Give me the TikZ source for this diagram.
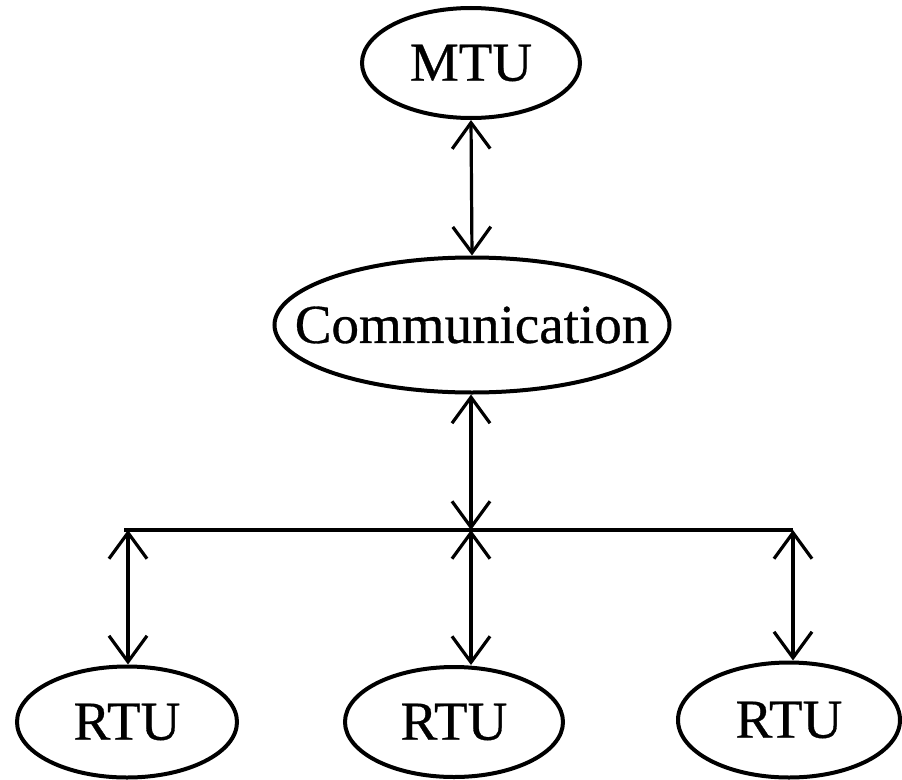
\documentclass[tikz,border=0pt]{standalone}
\usepackage{fontspec}
\setmainfont{Liberation Serif}
\newfontfamily\diagfont{Liberation Serif}[BoldFont={Liberation Serif},BoldFeatures={FakeBold=0.6}]
\usetikzlibrary{shapes.geometric,arrows.meta}
\begin{document}
\begin{tikzpicture}[x=1pt,y=1pt,
  unit/.style={draw, ellipse, line width=4pt, inner sep=0pt, font=\diagfont\bfseries\fontsize{55}{60}\selectfont},
  link/.style={line width=3.2pt, {Straight Barb[length=26pt,width=38pt]}-{Straight Barb[length=26pt,width=38pt]}},
  bus/.style={line width=4.5pt}]
\useasboundingbox (0,0) rectangle (902,-779);
\node[unit, minimum width=218pt, minimum height=110pt] (mtu) at (471,-63) {\makebox[0pt]{MTU}};
\node[unit, minimum width=395pt, minimum height=135pt] (comm) at (472,-325) {\makebox[0pt]{Communication}};
\node[unit, minimum width=220pt, minimum height=111pt] (rtu1) at (127,-722) {\makebox[0pt]{RTU}};
\node[unit, minimum width=218pt, minimum height=110pt] (rtu2) at (454,-722) {\makebox[0pt]{RTU}};
\node[unit, minimum width=222pt, minimum height=115pt] (rtu3) at (789,-720) {\makebox[0pt]{RTU}};
\coordinate (j1) at (128,-530);
\coordinate (j2) at (471,-530);
\coordinate (j3) at (793,-530);
\coordinate (bl) at (124,-530);
\draw[bus] (bl) -- (j3);
\draw[link] (mtu.south) -- (comm.north);
\draw[link] (comm.south -| j2) -- (j2);
\draw[link] (j1) -- (j1 |- rtu1.north);
\draw[link] (j2) -- (j2 |- rtu2.north);
\draw[link] (j3) -- (j3 |- rtu3.north);
\end{tikzpicture}
\end{document}
